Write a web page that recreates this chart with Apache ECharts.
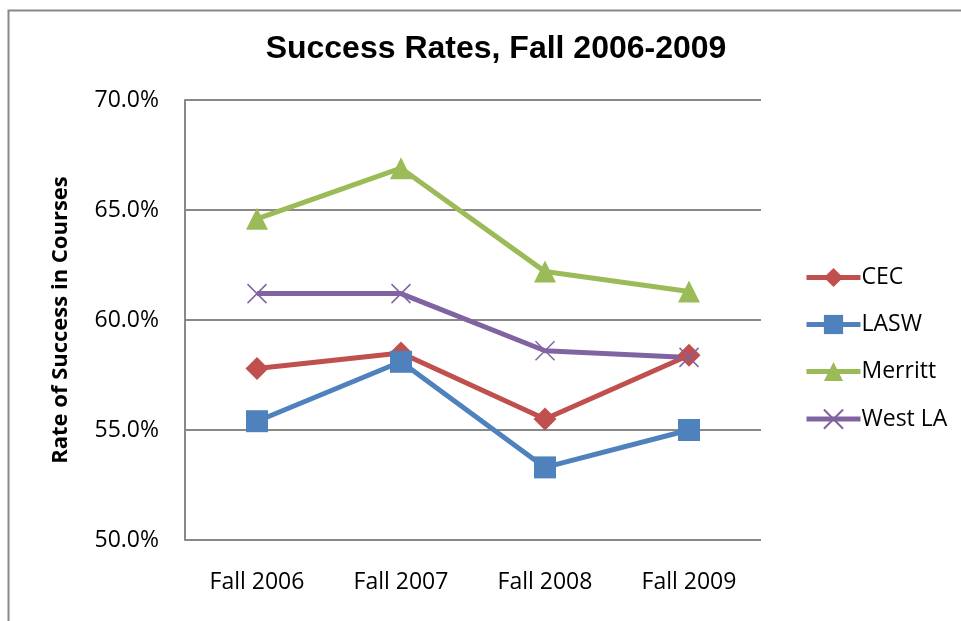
<!DOCTYPE html>
<html>
<head>
<meta charset="utf-8">
<script src="https://cdn.jsdelivr.net/npm/echarts@6/dist/echarts.min.js"></script>
<style>html,body{margin:0;padding:0;background:#fff;}#c{width:961px;height:621px;}</style>
</head>
<body>
<div id="c"></div>
<script>
const categories = ['Fall 2006', 'Fall 2007', 'Fall 2008', 'Fall 2009'];
const cec = [57.8, 58.5, 55.5, 58.4];
const lasw = [55.4, 58.1, 53.3, 55.0];
const merritt = [64.6, 66.9, 62.2, 61.3];
const westLA = [61.2, 61.2, 58.6, 58.3];
const yTicks = { min: 50, max: 70, interval: 5 };

const font = '"Open Sans", Lato, sans-serif';
const chart = echarts.init(document.getElementById('c'));
function s(name, data, color, symbol, size, extra) {
  return Object.assign({
    name: name, type: 'line', data: data, symbol: symbol, symbolSize: size,
    lineStyle: { color: color, width: 5 },
    itemStyle: { color: color },
    z: 3
  }, extra || {});
}
chart.setOption({
  animation: false,
  title: {
    text: 'Success Rates, Fall 2006-2009', left: 491, top: 28, textAlign: 'center',
    textStyle: { fontFamily: 'Liberation Sans, Arial, sans-serif', fontWeight: 'bold', fontSize: 32, color: '#000' }
  },
  graphic: [{
    type: 'rect', left: 6, top: 8, shape: { width: 1000, height: 700 },
    style: { fill: 'none', stroke: '#888', lineWidth: 2 }, silent: true
  }],
  grid: { left: 185, right: 200, top: 100, bottom: 81 },
  legend: {
    orient: 'vertical', left: 799, top: 261, itemGap: 24, itemWidth: 54, itemHeight: 24,
    lineStyle: { width: 5 },
    textStyle: { fontFamily: font, fontSize: 23, color: '#000', padding: [0, 0, 0, -4] },
    data: ['CEC', 'LASW', 'Merritt', 'West LA']
  },
  xAxis: {
    type: 'category', data: categories, boundaryGap: true,
    axisLine: { show: false }, axisTick: { show: false },
    axisLabel: { fontFamily: font, fontSize: 23, color: '#000', margin: 31 }
  },
  yAxis: {
    type: 'value', min: yTicks.min, max: yTicks.max, interval: yTicks.interval,
    name: 'Rate of Success in Courses', nameLocation: 'middle', nameGap: 113,
    nameTextStyle: { fontFamily: font, fontSize: 22, fontWeight: 'bold', color: '#000' },
    axisLine: { show: true, lineStyle: { color: '#888', width: 2 } },
    axisTick: { show: false },
    splitLine: { lineStyle: { color: '#888', width: 2 } },
    axisLabel: { fontFamily: font, fontSize: 23, color: '#000', margin: 26, formatter: v => v.toFixed(1) + '%' }
  },
  series: [
    s('CEC', cec, '#C0504D', 'diamond', 23),
    s('LASW', lasw, '#4F81BD', 'rect', 22),
    s('Merritt', merritt, '#9BBB59', 'triangle', 22),
    s('West LA', westLA, '#8064A2', 'path://M0,0 L10,10 M10,0 L0,10', 19, {
      itemStyle: { color: 'none', borderColor: '#8064A2', borderWidth: 1.5 }
    })
  ]
});
</script>
</body>
</html>
